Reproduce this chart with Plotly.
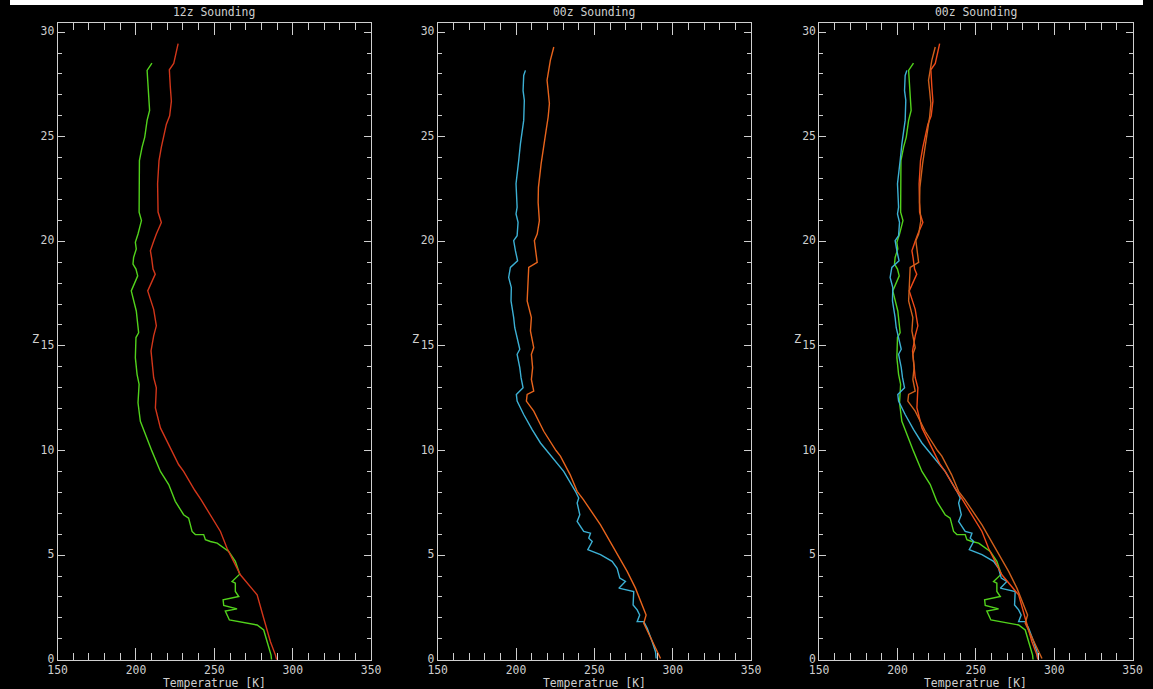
import plotly.graph_objects as go

W, H = 1153, 689

# ---------------- data ----------------
# 12z sounding, green curve
z12_green = [0.0, 0.22, 0.86, 1.42, 1.66, 1.79, 1.9, 2.33, 2.43, 2.59, 2.86, 3.02, 3.26, 3.66, 3.74, 4.09,
             4.7, 5.17, 5.57, 5.65, 5.74, 5.98, 5.98, 6.13, 6.77, 6.93, 7.57, 8.37, 9.0, 9.97, 10.77, 11.4,
             12.28, 13.16, 13.64, 14.44, 15.4, 15.63, 16.67, 17.63, 18.35, 18.67, 18.91, 19.23, 19.63,
             19.95, 20.35, 20.99, 21.39, 23.86, 24.5, 24.98, 25.78, 26.26, 27.45, 28.17, 28.52]
t12_green = [286.5, 286.2, 283.7, 281.5, 277.3, 268.7, 259.6, 257.0, 264.5, 256.0, 255.6, 265.6, 263.4, 263.4,
             261.3, 266.2, 263.4, 259.2, 251.8, 247.5, 244.3, 243.2, 237.9, 235.8, 233.6, 230.4, 225.1,
             220.9, 215.6, 210.2, 206.0, 202.8, 201.3, 202.0, 200.7, 199.6, 200.0, 201.7, 200.2, 197.0,
             201.1, 200.0, 198.1, 198.5, 200.2, 199.6, 201.3, 203.5, 202.0, 202.2, 203.9, 205.6, 207.1,
             208.7, 207.7, 207.1, 210.2]

# 12z sounding, red curve
z12_red = [0.0, 0.22, 0.86, 1.4, 1.98, 3.1, 4.06, 4.7, 5.33, 6.13, 6.93, 7.65, 8.1, 9.0, 9.33, 9.97, 10.12,
           11.08, 12.04, 13.0, 13.48, 14.76, 15.48, 15.96, 16.75, 17.63, 18.43, 18.67, 19.2, 19.55, 20.0,
           20.35, 20.9, 21.4, 22.75, 23.86, 24.5, 25.0, 25.6, 26.0, 26.7, 27.4, 28.2, 28.5, 29.45]
t12_red = [289.8, 289.0, 285.8, 283.5, 281.5, 277.3, 266.6, 262.3, 258.1, 253.9, 247.5, 241.5, 237.5, 230.4,
           227.2, 223.0, 221.9, 215.6, 212.4, 213.0, 211.3, 209.6, 211.3, 213.0, 211.3, 207.5, 212.3, 210.9,
           210.0, 209.2, 211.3, 213.0, 216.2, 214.1, 213.8, 214.7, 216.2, 217.7, 219.4, 221.5, 222.6, 221.9,
           221.3, 224.1, 226.9]

# 00z sounding, blue curve
z00_blue = [0.06, 0.38, 0.86, 1.5, 1.82, 1.82, 2.14, 2.38, 2.62, 3.26, 3.42, 3.74, 3.9, 4.37, 4.7, 5.02,
            5.26, 5.65, 5.81, 6.05, 6.13, 6.61, 6.93, 7.49, 7.73, 7.89, 8.05, 9.0, 9.81, 10.36, 11.0, 11.72,
            12.36, 12.68, 13.0, 13.48, 13.96, 14.6, 14.84, 15.24, 15.87, 16.35, 17.15, 17.79, 18.27, 18.75,
            19.07, 19.55, 20.03, 20.27, 20.91, 21.31, 21.63, 22.75, 23.38, 23.86, 24.66, 25.14, 25.78,
            26.74, 27.2, 27.93, 28.17]
t00_blue = [289.4, 289.0, 286.9, 283.7, 281.5, 277.3, 278.9, 277.3, 274.7, 275.1, 265.6, 269.8, 266.2, 264.5,
            261.3, 253.9, 245.8, 248.6, 246.4, 247.5, 243.2, 239.0, 240.7, 239.0, 240.0, 239.0, 237.9, 230.4,
            221.9, 215.6, 210.3, 204.9, 200.7, 200.2, 204.5, 203.2, 202.4, 200.7, 202.4, 201.1, 199.2, 198.5,
            196.8, 197.0, 195.3, 196.4, 201.0, 199.6, 198.5, 200.7, 201.3, 200.0, 200.7, 200.0, 200.7, 201.7,
            202.8, 203.9, 204.9, 205.3, 204.5, 204.9, 206.0]

# 00z sounding, orange curve
z00_orange = [0.06, 0.38, 1.02, 1.74, 2.14, 2.62, 3.42, 4.22, 5.33, 6.45, 7.65, 8.05, 8.85, 9.73, 10.0,
              10.92, 11.88, 12.36, 12.68, 12.84, 13.4, 13.96, 14.6, 14.92, 15.72, 16.35, 17.15, 17.95, 18.75,
              18.99, 19.39, 20.03, 20.35, 20.99, 21.86, 22.58, 23.7, 24.66, 25.3, 25.94, 26.58, 27.2, 27.7,
              28.02, 28.65, 29.29]
t00_orange = [292.2, 290.1, 285.8, 281.5, 283.0, 280.5, 276.2, 270.9, 262.4, 253.9, 243.0, 239.0, 234.5,
              228.3, 225.5, 217.7, 211.3, 206.6, 207.1, 211.3, 209.8, 210.6, 209.8, 211.3, 209.2, 209.8,
              207.1, 207.7, 208.1, 213.5, 212.8, 211.7, 213.5, 214.9, 214.1, 214.3, 216.0, 217.7, 219.2,
              220.5, 221.3, 220.5, 219.8, 220.5, 221.9, 224.1]

titles = ["12z Sounding", "00z Sounding", "00z Sounding"]
x_title = "Temperatrue [K]"
y_title = "Z"

# ---------------- styling ----------------
GREEN = "#52d21c"
RED = "#d2361a"
BLUE = "#3cb0d4"
ORANGE = "#e8641c"
AXC = "#cfcfcf"
FONT = "DejaVu Sans Mono"
FS = 11.4

# target positions (picture pixels) mapped into page pixels
SX, OX = 0.9825, 9.7
SY, OY = 0.9888, -0.35


def px(xf):
    return (xf - OX) / SX


def py(yf):
    return (yf - OY) / SY


left_t = [57.3, 437.3, 818.7]
width_t = 313.4
top_t, bot_t = 22.7, 657.7

fig = go.Figure()


def add(xs, ys, color, idx):
    suffix = "" if idx == 0 else str(idx + 1)
    fig.add_trace(go.Scatter(x=xs, y=ys, mode="lines", line=dict(color=color, width=1.4),
                             xaxis="x" + suffix, yaxis="y" + suffix, showlegend=False,
                             hoverinfo="skip"))


add(t12_green, z12_green, GREEN, 0)
add(t12_red, z12_red, RED, 0)
add(t00_blue, z00_blue, BLUE, 1)
add(t00_orange, z00_orange, ORANGE, 1)
add(t12_green, z12_green, GREEN, 2)
add(t00_blue, z00_blue, BLUE, 2)
add(t12_red, z12_red, "#f04a18", 2)
add(t00_orange, z00_orange, "#d0601c", 2)

layout = dict(
    width=W, height=H,
    margin=dict(l=0, r=0, t=0, b=0),
    paper_bgcolor="black", plot_bgcolor="black",
    showlegend=False,
    font=dict(family=FONT, size=FS, color=AXC),
)

ydom = [(H - py(bot_t)) / H, (H - py(top_t)) / H]
annotations = []
for i in range(3):
    suffix = "" if i == 0 else str(i + 1)
    x0 = px(left_t[i]) / W
    x1 = px(left_t[i] + width_t) / W
    layout["xaxis" + suffix] = dict(
        domain=[x0, x1], anchor="y" + suffix, range=[150, 350],
        tickmode="linear", tick0=150, dtick=50,
        ticks="inside", ticklen=12, tickwidth=1, tickcolor=AXC,
        minor=dict(tick0=150, dtick=10, ticks="inside", ticklen=7, tickwidth=1, tickcolor=AXC),
        showline=True, linecolor=AXC, linewidth=1, mirror="ticks",
        showgrid=False, zeroline=False, ticklabelstandoff=0,
        tickfont=dict(family=FONT, size=FS, color=AXC),
    )
    layout["yaxis" + suffix] = dict(
        domain=ydom, anchor="x" + suffix, range=[0, 30.43],
        tickmode="linear", tick0=0, dtick=5,
        ticks="inside", ticklen=7, tickwidth=1, tickcolor=AXC,
        minor=dict(tick0=0, dtick=1, ticks="inside", ticklen=4, tickwidth=1, tickcolor=AXC),
        showline=True, linecolor=AXC, linewidth=1, mirror="ticks",
        showgrid=False, zeroline=False, ticklabelshift=-1,
        tickfont=dict(family=FONT, size=FS, color=AXC),
    )
    cx = (x0 + x1) / 2
    annotations.append(dict(text=titles[i], x=cx, y=1 - py(12) / H, xref="paper", yref="paper",
                            xanchor="center", yanchor="middle", showarrow=False,
                            font=dict(family=FONT, size=FS, color=AXC)))
    annotations.append(dict(text=x_title, x=cx, y=1 - py(680.5) / H, xref="paper", yref="paper",
                            xanchor="center", yanchor="middle", showarrow=False,
                            font=dict(family=FONT, size=FS, color=AXC)))
    annotations.append(dict(text=y_title, x=px(left_t[i] - 22) / W, y=1 - py(338) / H, xref="paper",
                            yref="paper", xanchor="center", yanchor="middle", showarrow=False,
                            font=dict(family=FONT, size=FS + 0.6, color=AXC)))

layout["annotations"] = annotations
layout["shapes"] = [
    dict(type="rect", xref="paper", yref="paper", x0=0, x1=1, y0=1 - 5 / H, y1=1,
         fillcolor="white", line=dict(width=0), layer="above"),
]

fig.update_layout(**layout)

post = """
var st = document.createElement('style');
st.innerHTML = 'html{margin:0 !important;padding:0 !important;overflow:hidden !important;background:#000 !important;}'
  + 'body{margin:0 !important;padding:0 !important;overflow:hidden !important;background:#000 !important;}';
document.head.appendChild(st);
var gd = document.getElementById('{plot_id}');
if (gd && gd.parentElement) { gd.parentElement.style.margin = '0'; gd.parentElement.style.padding = '0'; }
"""

fig.write_html(
    "out.html",
    config={"responsive": False, "displayModeBar": False},
    post_script=post,
)
